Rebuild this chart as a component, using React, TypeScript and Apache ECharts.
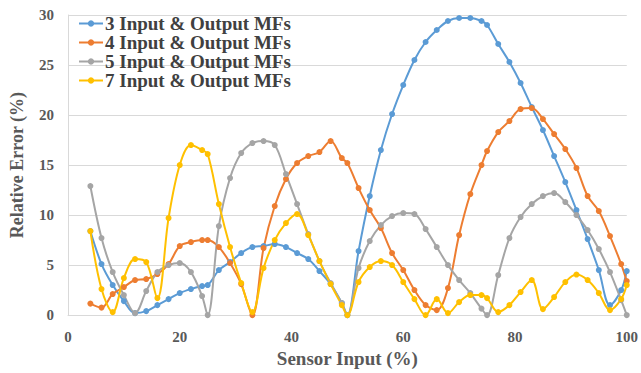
import React, { useEffect, useRef } from "react";
import * as echarts from "echarts";

const seriesNames = [
  "3 Input & Output MFs",
  "4 Input & Output MFs",
  "5 Input & Output MFs",
  "7 Input & Output MFs",
];

const xs = [4, 6, 8, 10, 12, 14, 16, 18, 20, 22, 24, 25, 27, 29, 31, 33, 35, 37, 39, 41, 43, 45, 47, 49, 50, 52, 54, 56, 58, 60, 62, 64, 66, 68, 70, 72, 74, 75, 77, 79, 81, 83, 85, 87, 89, 91, 93, 95, 97, 99, 100];

const mf3 = [8.4, 5.1, 3.0, 1.4, 0.2, 0.4, 1.0, 1.6, 2.2, 2.6, 2.9, 3.0, 4.5, 5.3, 6.2, 6.8, 6.9, 7.1, 6.8, 6.2, 5.6, 4.4, 3.1, 1.2, 0, 6.4, 11.9, 16.5, 20.1, 23.0, 25.5, 27.3, 28.5, 29.4, 29.7, 29.7, 29.4, 29.0, 27.1, 25.3, 23.2, 20.8, 18.5, 15.9, 13.3, 10.5, 7.6, 4.5, 1.0, 2.5, 4.4];

const mf4 = [1.15, 0.75, 2.1, 2.8, 3.5, 3.6, 4.1, 5.1, 6.9, 7.3, 7.5, 7.5, 6.8, 5.2, 3.1, 0, 6.7, 10.9, 13.6, 15.2, 15.9, 16.3, 17.4, 15.7, 15.2, 12.7, 10.5, 8.7, 6.2, 4.5, 2.5, 1.0, 0.5, 2.7, 8.0, 12.1, 15.0, 16.4, 18.3, 19.4, 20.6, 20.7, 19.6, 18.1, 16.6, 14.7, 11.9, 10.4, 7.9, 5.1, 3.4];

const mf5 = [12.9, 7.7, 4.3, 2.0, 0.2, 2.4, 4.3, 5.0, 5.2, 4.3, 1.9, 0, 8.9, 13.7, 16.2, 17.2, 17.4, 17.0, 14.1, 11.1, 8.1, 5.4, 3.2, 1.2, 0, 4.7, 7.4, 9.0, 9.9, 10.2, 10.1, 8.6, 6.8, 5.0, 3.5, 2.2, 0.65, 0, 4.0, 7.7, 9.8, 11.1, 11.9, 12.2, 11.3, 10.0, 8.5, 6.6, 4.3, 1.5, 0];

const mf7 = [8.4, 2.6, 0.3, 3.7, 5.6, 5.3, 1.7, 9.7, 15.0, 17.0, 16.5, 16.1, 11.1, 6.8, 3.2, 0.3, 4.7, 7.5, 9.2, 10.1, 8.0, 5.4, 3.1, 1.0, 0, 3.3, 4.8, 5.4, 5.0, 3.3, 1.6, 0, 1.6, 0.2, 1.3, 2.0, 2.0, 1.7, 0.3, 1.0, 2.3, 3.5, 0.6, 1.8, 3.3, 4.05, 3.5, 2.2, 0.5, 1.6, 3.0];

const colors = ["#5B9BD5", "#ED7D31", "#A5A5A5", "#FFC000"];
const values = [mf3, mf4, mf5, mf7];

const FONT = "Liberation Serif";

export default function App() {
  const ref = useRef<HTMLDivElement>(null);
  useEffect(() => {
    if (!ref.current) return;
    const chart = echarts.init(ref.current, null, { renderer: "svg" });
    chart.setOption({
      animation: false,
      color: colors,
      grid: { left: 67, right: 13, top: 15, bottom: 55 },
      legend: {
        orient: "vertical",
        left: 73,
        top: 9,
        itemGap: 0,
        itemWidth: 24,
        itemHeight: 8,
        textStyle: {
          fontFamily: FONT,
          fontWeight: "bold",
          fontSize: 19,
          lineHeight: 18,
          color: "#404040",
          padding: [0, 0, 0, -3],
        },
        data: seriesNames,
      },
      xAxis: {
        type: "value",
        min: 0,
        max: 100,
        interval: 20,
        name: "Sensor Input (%)",
        nameLocation: "middle",
        nameGap: 32,
        nameTextStyle: { fontFamily: FONT, fontWeight: "bold", fontSize: 19, color: "#595959" },
        axisLine: { show: true, lineStyle: { color: "#D9D9D9", width: 1 } },
        axisTick: { show: false },
        splitLine: { show: false },
        axisLabel: { fontFamily: FONT, fontWeight: "bold", fontSize: 15, color: "#595959", margin: 14 },
      },
      yAxis: {
        type: "value",
        min: 0,
        max: 30,
        interval: 5,
        name: "Relative Error (%)",
        nameLocation: "middle",
        nameGap: 42,
        nameTextStyle: { fontFamily: FONT, fontWeight: "bold", fontSize: 18, color: "#595959" },
        axisLine: { show: true, lineStyle: { color: "#D9D9D9", width: 1 } },
        axisTick: { show: false },
        splitLine: { show: true, lineStyle: { color: "#D9D9D9", width: 1 } },
        axisLabel: { fontFamily: FONT, fontWeight: "bold", fontSize: 15, color: "#595959", margin: 14 },
      },
      series: seriesNames.map((name, i) => ({
        name,
        type: "line",
        smooth: 0.35,
        symbol: "circle",
        symbolSize: 6,
        lineStyle: { width: 2, color: colors[i] },
        itemStyle: { color: colors[i] },
        data: xs.map((x, j) => [x, values[i][j]]),
      })),
    });
    return () => chart.dispose();
  }, []);
  return <div ref={ref} style={{ width: 641, height: 373, position: "absolute", left: 0, top: 0 }} />;
}
